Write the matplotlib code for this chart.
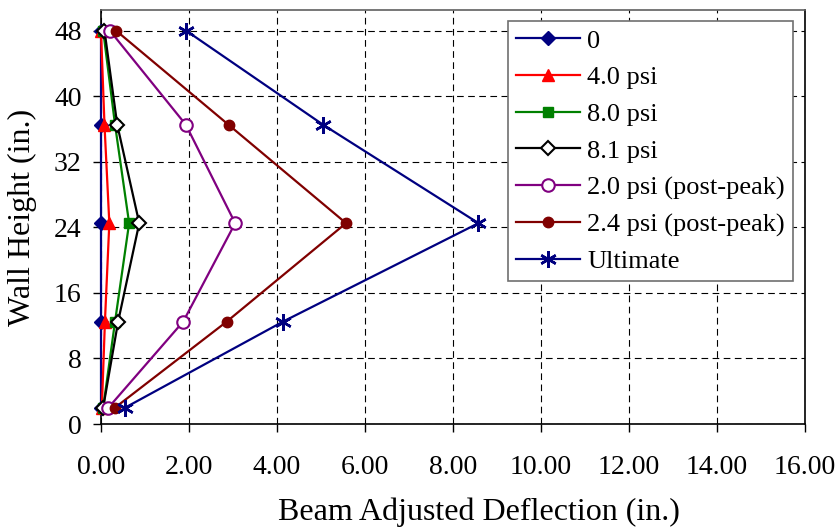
import matplotlib
matplotlib.use('Agg')
import matplotlib.pyplot as plt

plt.rcParams['font.family'] = ['Liberation Serif', 'DejaVu Serif']

# wall heights of the gauges (in.)
heights = [2, 12.5, 24.5, 36.5, 48]

# beam adjusted deflection (in.) at each height
d_0 = [0.0, 0.0, 0.0, 0.0, 0.0]
d_4_0 = [0.02, 0.09, 0.19, 0.08, 0.0]
d_8_0 = [0.05, 0.32, 0.64, 0.32, 0.05]
d_8_1 = [0.05, 0.39, 0.87, 0.37, 0.08]
d_2_0_post = [0.17, 1.87, 3.05, 1.93, 0.2]
d_2_4_post = [0.32, 2.86, 5.57, 2.9, 0.34]
d_ult = [0.55, 4.14, 8.58, 5.05, 1.93]

series_labels = ['0', '4.0 psi', '8.0 psi', '8.1 psi',
                 '2.0 psi (post-peak)', '2.4 psi (post-peak)', 'Ultimate']

fig = plt.figure(figsize=(8.4, 5.27), dpi=100)
ax = fig.add_axes([0.1202, 0.1954, 0.8381, 0.7856])

lw = 1.6
common = dict(lw=lw, clip_on=False, zorder=3)
ax.plot(d_0, heights, color='#000080', marker='D', ms=7, label=series_labels[0], **common)
ax.plot(d_4_0, heights, color='#FF0000', marker='^', ms=8, label=series_labels[1], **common)
ax.plot(d_8_0, heights, color='#008000', marker='s', ms=7, label=series_labels[2], **common)
ax.plot(d_8_1, heights, color='black', marker='D', ms=7, mfc='white', mew=1.5,
        label=series_labels[3], **common)
ax.plot(d_2_0_post, heights, color='#800080', marker='o', ms=9, mfc='white', mew=1.5,
        label=series_labels[4], **common)
ax.plot(d_2_4_post, heights, color='#800000', marker='o', ms=7.5, label=series_labels[5], **common)
ax.plot(d_ult, heights, color='#000080', marker=(6, 2, 0), ms=12, mew=1.8,
        label=series_labels[6], **common)

ax.set_xlim(0, 16)
ax.set_ylim(0, 50.5)
ax.set_xticks(range(0, 17, 2))
ax.set_xticklabels(['%.2f' % v for v in range(0, 17, 2)])
ax.set_yticks(range(0, 49, 8))

ax.grid(True, color='black', linestyle=(0, (6, 4)), linewidth=0.8)
ax.tick_params(direction='out', length=6, width=1, labelsize=20)
ax.tick_params(axis='x', pad=16)
ax.tick_params(axis='y', pad=8)
for s in ax.spines.values():
    s.set_linewidth(1.2)
ax.spines['top'].set_color('#606060')

ax.set_xlabel('Beam Adjusted Deflection (in.)', fontsize=23)
ax.xaxis.set_label_coords(0.537, -0.177)
ax.set_ylabel('Wall Height (in.)', fontsize=23, labelpad=12)

leg = ax.legend(loc='upper right', bbox_to_anchor=(0.983, 0.973), fontsize=19,
                fancybox=False, framealpha=1, edgecolor='#707070',
                handlelength=2.4, handletextpad=0.3, labelspacing=0.5, borderpad=0.3,
                borderaxespad=0.0)
leg.get_frame().set_linewidth(1.2)

fig.savefig('out.png', dpi=100)
